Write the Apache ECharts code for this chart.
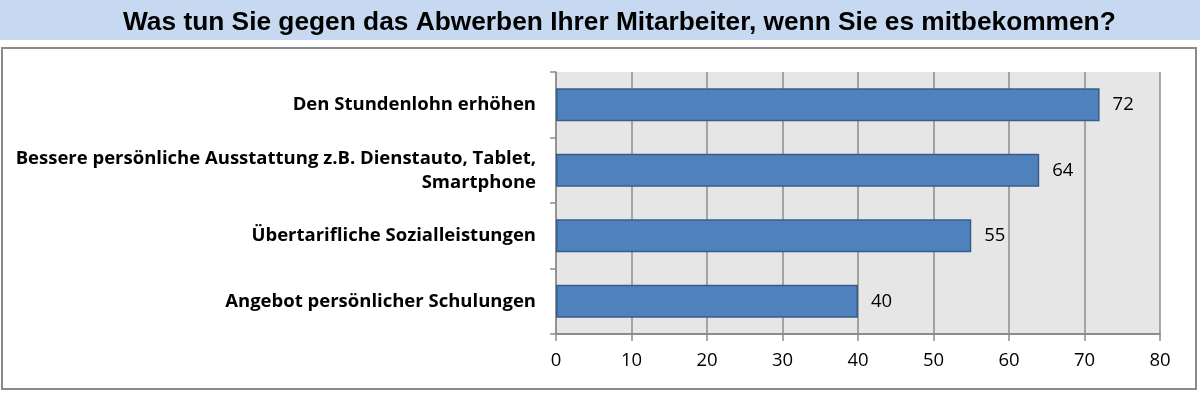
<!DOCTYPE html>
<html>
<head>
<meta charset="utf-8">
<script src="https://cdn.jsdelivr.net/npm/echarts@6/dist/echarts.min.js"></script>
<style>html,body{margin:0;padding:0;background:#fff;}#c{width:1200px;height:394px;}</style>
</head>
<body>
<div id="c"></div>
<script>
const titleText = 'Was tun Sie gegen das Abwerben Ihrer Mitarbeiter, wenn Sie es mitbekommen?';
const categories = [
  'Den Stundenlohn erhöhen',
  'Bessere persönliche Ausstattung z.B. Dienstauto, Tablet,\nSmartphone',
  'Übertarifliche Sozialleistungen',
  'Angebot persönlicher Schulungen'
];
const values = [72, 64, 55, 40];
const xMin = 0, xMax = 80, xInterval = 10;

const chart = echarts.init(document.getElementById('c'), null, {renderer: 'canvas'});
const labelFont = '"Open Sans", "Noto Sans", sans-serif';
chart.setOption({
  animation: false,
  backgroundColor: '#ffffff',
  title: {
    text: titleText,
    left: 118,
    top: 5,
    textStyle: {fontFamily: '"Liberation Sans", Arial, sans-serif', fontWeight: 'bold', fontSize: 26.3, color: '#000'}
  },
  graphic: [
    {type: 'rect', z: -10, silent: true, shape: {x: 0, y: 0, width: 1200, height: 40}, style: {fill: '#c6d9f1'}},
    {type: 'rect', z: -10, silent: true, shape: {x: 2, y: 48, width: 1194, height: 341}, style: {fill: '#ffffff', stroke: '#8a8a8a', lineWidth: 2}}
  ],
  grid: {left: 556, right: 40, top: 72, height: 262, show: true, backgroundColor: '#e6e6e6', borderWidth: 0, containLabel: false},
  xAxis: {
    type: 'value', min: xMin, max: xMax, interval: xInterval,
    axisLine: {show: true, lineStyle: {color: '#8c8c8c', width: 2}},
    axisTick: {show: true, length: 7, lineStyle: {color: '#8c8c8c', width: 1.5}},
    splitLine: {show: true, lineStyle: {color: '#8c8c8c', width: 1.5}},
    axisLabel: {margin: 17, fontSize: 18.5, color: '#000', fontFamily: labelFont}
  },
  yAxis: {
    type: 'category', data: categories, inverse: true,
    axisLine: {show: true, lineStyle: {color: '#8c8c8c', width: 1.5}},
    axisTick: {show: true, length: 6, alignWithLabel: false, lineStyle: {color: '#8c8c8c', width: 1.5}},
    axisLabel: {margin: 20, fontSize: 18.5, fontWeight: 'bold', color: '#000', fontFamily: labelFont, lineHeight: 24, align: 'right'}
  },
  series: [{
    type: 'bar', data: values, barWidth: 33,
    itemStyle: {color: '#4f81bd', borderColor: '#385d8a', borderWidth: 1.5},
    label: {show: true, position: 'right', distance: 13, fontSize: 18.5, color: '#000', fontFamily: labelFont}
  }]
});
</script>
</body>
</html>
